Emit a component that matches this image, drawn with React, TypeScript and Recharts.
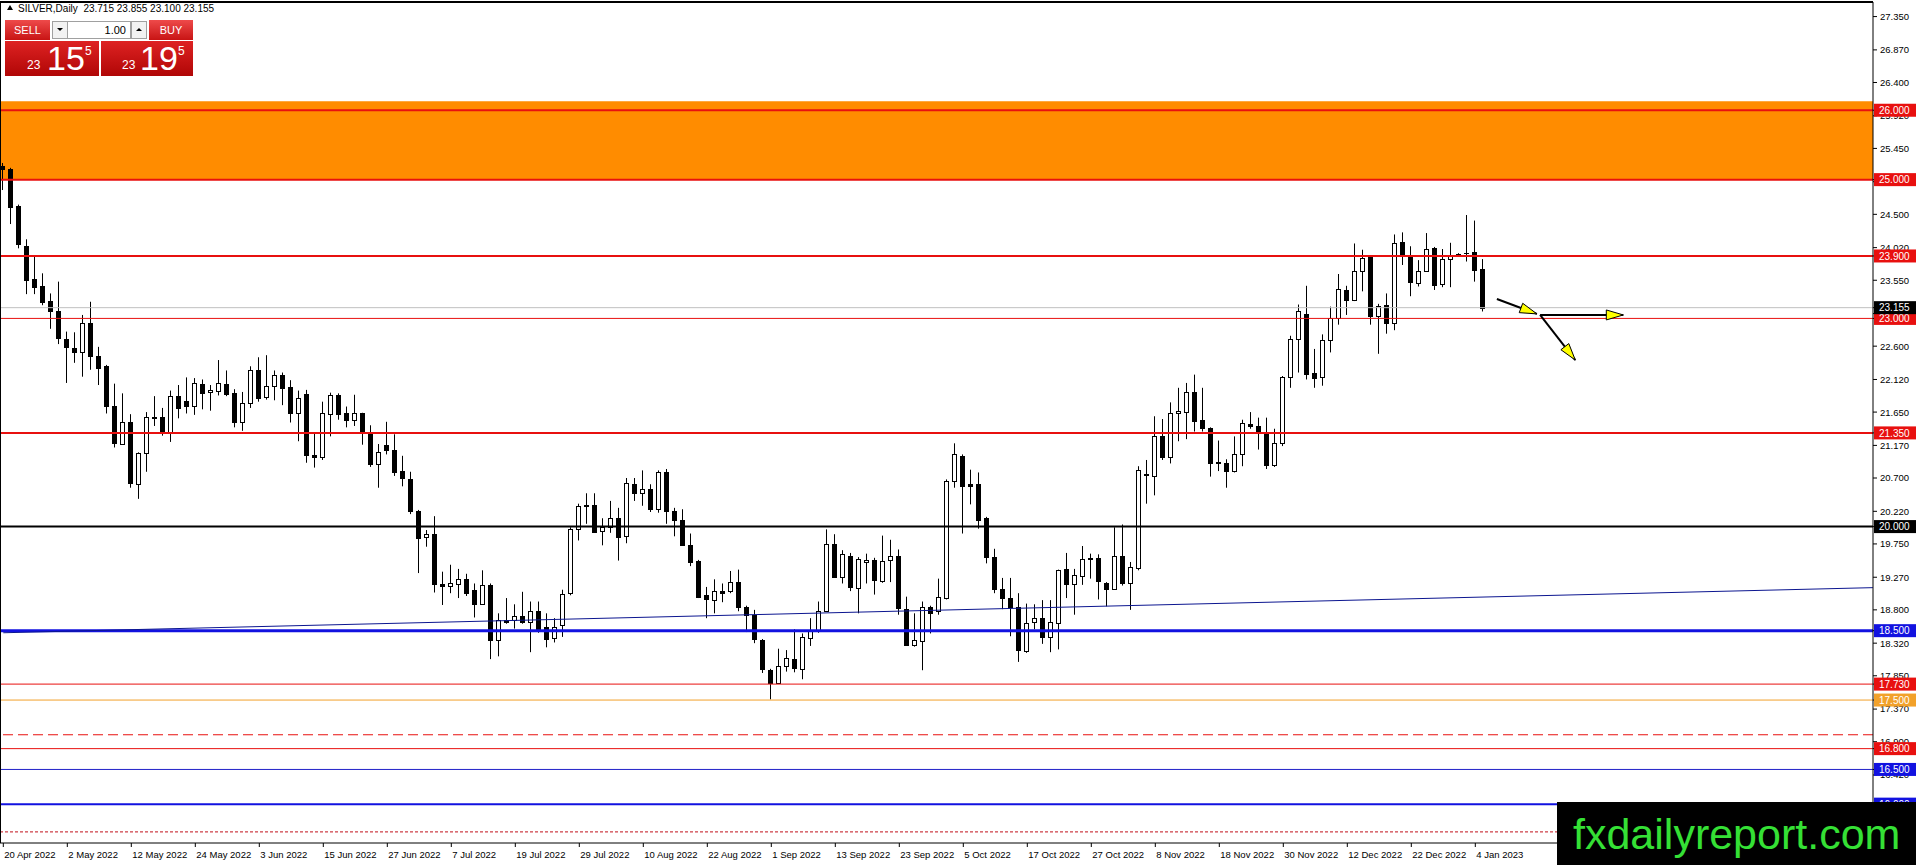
import {
  Bar,
  ComposedChart,
  ReferenceArea,
  ReferenceLine,
  XAxis,
  YAxis,
} from "recharts";

const FONT = '"Liberation Sans", Arial, sans-serif';

// daily candles, 20 Apr 2022 .. 5 Jan 2023
const OPEN = [
  25.2, 25.15, 24.62, 24.05, 23.57, 23.47, 23.25, 23.1, 22.71, 22.58,
  22.51, 22.93, 22.46, 22.31, 21.74, 21.19, 21.51, 20.62, 21.06, 21.58,
  21.58, 21.35, 21.88, 21.81, 21.74, 22.05, 21.94, 21.95, 22.05, 21.93,
  21.5, 21.78, 22.26, 21.87, 22.02, 22.19, 22.01, 21.63, 21.91, 21.03,
  21.0, 21.62, 21.9, 21.63, 21.53, 21.63, 21.37, 20.9, 21.18, 21.11,
  20.8, 20.69, 20.23, 19.85, 19.9, 19.17, 19.15, 19.17, 19.24, 19.08,
  18.89, 19.16, 18.36, 18.65, 18.66, 18.71, 18.62, 18.79, 18.55, 18.39,
  18.58, 19.04, 19.96, 20.31, 20.31, 19.93, 20.0, 20.12, 19.86, 20.62,
  20.49, 20.54, 20.25, 20.78, 20.23, 20.1, 19.74, 19.51, 19.02, 18.94,
  19.07, 19.07, 19.2, 18.84, 18.72, 18.37, 17.94, 17.75, 17.99, 18.09,
  17.95, 18.39, 18.49, 18.79, 19.75, 19.28, 19.58, 19.12, 19.49, 19.52,
  19.21, 19.52, 19.58, 18.81, 18.3, 18.35, 18.84, 18.78, 18.97, 20.65,
  21.02, 20.61, 20.61, 20.12, 19.56, 19.1, 18.97, 18.84, 18.2, 18.63,
  18.68, 18.41, 18.61, 19.39, 19.17, 19.29, 19.55, 19.55, 19.18, 19.1,
  19.58, 19.18, 19.41, 20.76, 20.73, 21.31, 21.0, 21.64, 21.65, 21.94,
  21.54, 21.42, 20.93, 20.92, 20.8, 21.04, 21.48, 21.45, 21.35, 20.89,
  21.21, 22.16, 22.7, 23.06, 22.21, 22.15, 22.69, 23.01, 23.41, 23.26,
  23.69, 23.89, 23.04, 23.2, 22.94, 24.1, 23.89, 23.51, 23.69, 24.01,
  23.5, 23.85, 23.93, 23.94, 23.96, 23.715,
];

const HIGH = [
  25.24, 25.17, 24.64, 24.14, 23.89, 23.65, 23.36, 23.53, 22.81, 22.8,
  23.05, 23.24, 22.59, 22.33, 22.06, 21.92, 21.62, 21.07, 21.65, 21.88,
  21.71, 21.96, 22.04, 22.15, 22.14, 22.12, 22.04, 22.4, 22.25, 21.98,
  21.94, 22.31, 22.44, 22.47, 22.25, 22.22, 22.11, 21.96, 21.97, 21.34,
  21.8, 21.93, 21.92, 21.73, 21.9, 21.64, 21.46, 21.19, 21.51, 21.33,
  21.02, 20.79, 20.24, 19.95, 20.15, 19.35, 19.45, 19.39, 19.32, 19.18,
  19.37, 19.18, 18.75, 18.97, 18.88, 19.06, 18.92, 18.92, 18.75, 18.68,
  19.09, 19.99, 20.33, 20.48, 20.48, 20.12, 20.37, 20.27, 20.7, 20.7,
  20.81, 20.61, 20.81, 20.83, 20.27, 20.25, 19.9, 19.52, 19.13, 19.24,
  19.18, 19.36, 19.38, 18.86, 18.8, 18.38, 17.95, 18.24, 18.22, 18.52,
  18.46, 18.68, 18.92, 19.96, 19.89, 19.66, 19.62, 19.56, 19.61, 19.55,
  19.87, 19.81, 19.67, 18.99, 18.75, 18.92, 18.86, 19.25, 20.68, 21.2,
  21.04, 20.82, 20.78, 20.14, 19.68, 19.26, 19.26, 19.04, 18.89, 18.88,
  18.94, 18.94, 19.38, 19.62, 19.39, 19.72, 19.61, 19.6, 19.2, 19.99,
  20.03, 19.49, 20.87, 20.96, 21.59, 21.55, 21.79, 22.0, 22.07, 22.19,
  22.0, 21.43, 21.24, 20.97, 21.3, 21.54, 21.65, 21.57, 21.57, 21.41,
  22.17, 22.75, 23.2, 23.47, 22.56, 22.77, 23.17, 23.64, 23.47, 24.08,
  23.99, 23.9, 23.21, 23.36, 24.21, 24.24, 24.04, 23.84, 24.23, 24.03,
  24.0, 24.09, 23.94, 24.49, 24.41, 23.855,
];

const LOW = [
  24.85, 24.36, 24.01, 23.35, 23.35, 23.19, 22.85, 22.63, 22.07, 22.36,
  22.16, 22.26, 22.04, 21.63, 21.14, 21.18, 20.56, 20.4, 20.79, 21.45,
  21.31, 21.22, 21.56, 21.63, 21.61, 21.69, 21.67, 21.89, 21.88, 21.43,
  21.38, 21.71, 21.8, 21.83, 21.82, 21.75, 21.5, 21.23, 20.92, 20.85,
  20.96, 21.3, 21.54, 21.43, 21.45, 21.18, 20.86, 20.56, 21.04, 20.73,
  20.58, 20.18, 19.33, 19.71, 19.05, 18.87, 19.04, 18.97, 19.0, 18.69,
  18.87, 18.09, 18.13, 18.6, 18.53, 18.6, 18.19, 18.47, 18.26, 18.33,
  18.41, 19.01, 19.8, 20.04, 19.91, 19.73, 19.91, 19.51, 19.76, 20.37,
  20.3, 20.21, 20.2, 20.04, 19.86, 19.72, 19.43, 18.97, 18.68, 18.75,
  18.91, 19.04, 18.78, 18.48, 18.32, 17.89, 17.51, 17.74, 17.91, 17.9,
  17.8, 18.28, 18.47, 18.78, 19.27, 19.18, 19.07, 18.75, 19.18, 19.02,
  19.19, 19.2, 18.73, 18.28, 18.27, 17.93, 18.46, 18.73, 18.95, 20.56,
  19.9, 20.32, 19.97, 19.47, 19.04, 18.81, 18.42, 18.05, 18.18, 18.52,
  18.31, 18.19, 18.23, 18.97, 18.73, 19.16, 19.25, 18.95, 18.85, 19.09,
  19.15, 18.8, 19.37, 20.33, 20.45, 20.96, 20.91, 21.23, 21.26, 21.37,
  21.37, 20.72, 20.8, 20.56, 20.78, 20.87, 21.41, 21.11, 20.83, 20.86,
  21.16, 22.0, 22.22, 22.12, 22.0, 22.03, 22.51, 22.91, 23.05, 23.25,
  23.39, 22.91, 22.49, 22.78, 22.83, 23.77, 23.32, 23.46, 23.68, 23.41,
  23.45, 23.45, 23.92, 23.82, 23.53, 23.1,
];

const CLOSE = [
  25.15, 24.6, 24.07, 23.55, 23.45, 23.24, 23.1, 22.72, 22.59, 22.51,
  22.93, 22.46, 22.29, 21.74, 21.21, 21.51, 20.63, 21.06, 21.58, 21.56,
  21.35, 21.88, 21.71, 21.74, 22.07, 21.93, 21.97, 22.07, 21.91, 21.5,
  21.78, 22.26, 21.86, 22.03, 22.19, 21.99, 21.64, 21.85, 21.03, 21.0,
  21.63, 21.9, 21.62, 21.53, 21.64, 21.35, 20.9, 21.08, 21.1, 20.79,
  20.7, 20.22, 19.83, 19.9, 19.17, 19.15, 19.19, 19.25, 19.04, 18.89,
  19.16, 18.37, 18.65, 18.62, 18.71, 18.62, 18.79, 18.53, 18.38, 18.56,
  19.03, 19.96, 20.3, 20.29, 19.92, 20.0, 20.12, 19.85, 20.63, 20.49,
  20.54, 20.26, 20.78, 20.22, 20.09, 19.73, 19.49, 18.98, 18.95, 19.07,
  19.05, 19.2, 18.84, 18.72, 18.38, 17.95, 17.75, 17.99, 18.11, 17.96,
  18.41, 18.51, 18.79, 19.75, 19.28, 19.6, 19.13, 19.53, 19.52, 19.23,
  19.51, 19.58, 18.82, 18.3, 18.36, 18.84, 18.76, 18.99, 20.66, 21.04,
  20.59, 20.58, 20.09, 19.56, 19.1, 18.97, 18.84, 18.22, 18.61, 18.68,
  18.41, 18.62, 19.37, 19.17, 19.3, 19.53, 19.53, 19.21, 19.1, 19.58,
  19.18, 19.42, 20.82, 20.75, 21.31, 21.0, 21.64, 21.67, 21.94, 21.52,
  21.42, 20.92, 20.91, 20.8, 21.05, 21.49, 21.45, 21.35, 20.89, 21.21,
  22.16, 22.7, 23.11, 22.2, 22.14, 22.69, 23.01, 23.42, 23.26, 23.69,
  23.87, 23.04, 23.18, 22.94, 24.09, 23.92, 23.52, 23.69, 24.0, 23.48,
  23.85, 23.92, 23.93, 23.94, 23.7, 23.155,
];

// one label every 8 bars
const LABEL_STEP = 8;
const DATE_LABELS = [
  "20 Apr 2022", "2 May 2022", "12 May 2022", "24 May 2022", "3 Jun 2022",
  "15 Jun 2022", "27 Jun 2022", "7 Jul 2022", "19 Jul 2022", "29 Jul 2022",
  "10 Aug 2022", "22 Aug 2022", "1 Sep 2022", "13 Sep 2022", "23 Sep 2022",
  "5 Oct 2022", "17 Oct 2022", "27 Oct 2022", "8 Nov 2022", "18 Nov 2022",
  "30 Nov 2022", "12 Dec 2022", "22 Dec 2022", "4 Jan 2023",
];

const PRICE_TICKS = [
  27.35, 26.87, 26.4, 25.92, 25.45, 24.97, 24.5, 24.02, 23.55, 23.07, 22.6,
  22.12, 21.65, 21.17, 20.7, 20.22, 19.75, 19.27, 18.8, 18.32, 17.85, 17.37,
  16.9, 16.42, 15.95, 15.47,
];

// horizontal levels drawn on the chart
const LEVEL_PRICES = [
  26.0, 25.0, 23.9, 23.0, 21.35, 20.0, 18.5, 17.73, 17.5, 17.0, 16.8, 16.5,
  16.0, 15.6,
];
const ZONE = [25.0, 26.13];
const TREND = [
  { bar: 0, price: 18.47 },
  { bar: 233.7, price: 19.12 },
];
const ARROWS = [
  { from: { bar: 186.7, price: 23.28 }, to: { bar: 191.7, price: 23.065 } },
  { from: { bar: 192.1, price: 23.05 }, to: { bar: 202.5, price: 23.05 } },
  { from: { bar: 192.1, price: 23.05 }, to: { bar: 196.5, price: 22.4 } },
];

const SYMBOL = "SILVER,Daily";
const LOT = "1.00";
const ASK = 23.195;

const RED = "#e8100f";
const BLUE = "#1212e0";

const LEVEL_STYLES = [
  { stroke: RED, width: 2, tag: RED },
  { stroke: RED, width: 2, tag: RED },
  { stroke: RED, width: 2, tag: RED },
  { stroke: RED, width: 1, tag: RED },
  { stroke: RED, width: 2, tag: RED },
  { stroke: "#000", width: 2, tag: "#000" },
  { stroke: BLUE, width: 3, tag: BLUE },
  { stroke: RED, width: 1, tag: RED },
  { stroke: "#f2a12a", width: 1, tag: "#f2a12a" },
  { stroke: RED, width: 1, dash: "10 5" },
  { stroke: RED, width: 1, tag: RED },
  { stroke: "#2020c8", width: 1, tag: BLUE },
  { stroke: BLUE, width: 2, tag: BLUE },
  { stroke: "#c0101a", width: 1, dash: "3 2" },
];

const X_MIN = -0.4125;
const X_MAX = 233.7125;
const Y_MIN = 15.44;
const Y_MAX = 27.56;

const candles = OPEN.map((open, i) => ({
  i,
  open,
  high: HIGH[i],
  low: LOW[i],
  close: CLOSE[i],
  range: [LOW[i], HIGH[i]],
}));

const last = candles[candles.length - 1];
const BID = last.close;

// price tags on the right scale: level tags plus the bid
const tags = new Map<number, string>();
LEVEL_PRICES.forEach((p, k) => {
  const t = LEVEL_STYLES[k].tag;
  if (t) tags.set(p, t);
});
tags.set(BID, "#000");
// tags go last so they are painted over the plain tick labels
const axisTicks = [...PRICE_TICKS, ...Array.from(tags.keys())];

function Candle(props: any) {
  const { x, y, width, height, payload } = props;
  if (!payload) return null;
  const top = Math.min(y, y + height);
  const bottom = Math.max(y, y + height);
  const span = payload.high - payload.low;
  const k = span > 0 ? (bottom - top) / span : 0;
  const toY = (v: number) => top + (payload.high - v) * k;
  const cx = Math.floor(x + width / 2) + 0.5;
  const up = payload.close > payload.open;
  const bTop = Math.round(toY(Math.max(payload.open, payload.close))) + 0.5;
  const bBot = Math.round(toY(Math.min(payload.open, payload.close))) + 0.5;
  return (
    <g>
      <line x1={cx} x2={cx} y1={top} y2={bottom} stroke="#000" strokeWidth={1} />
      {bBot - bTop < 1 ? (
        <line x1={cx - 2.5} x2={cx + 2.5} y1={bTop} y2={bTop} stroke="#000" strokeWidth={1} />
      ) : (
        <rect
          x={cx - 2}
          y={bTop}
          width={4}
          height={bBot - bTop}
          fill={up ? "#fff" : "#000"}
          stroke="#000"
          strokeWidth={1}
        />
      )}
    </g>
  );
}

function PriceTick(props: any) {
  const { x, y, payload } = props;
  const v = payload.value as number;
  const bg = tags.get(v);
  if (bg) {
    return (
      <g>
        <rect x={x - 6} y={y - 6.5} width={43} height={13} fill={bg} />
        <text x={x - 1} y={y} dy="0.36em" fill="#fff" fontSize={10} fontFamily={FONT}>
          {v.toFixed(3)}
        </text>
      </g>
    );
  }
  return (
    <text x={x} y={y} dy="0.36em" fill="#000" fontSize={9.5} fontFamily={FONT}>
      {v.toFixed(3)}
    </text>
  );
}

function ArrowShape(props: any) {
  const { x1, y1, x2, y2, strokeWidth } = props;
  const ang = Math.atan2(y2 - y1, x2 - x1);
  const len = 17;
  const half = 5;
  const bx = x2 - len * Math.cos(ang);
  const by = y2 - len * Math.sin(ang);
  const px = -Math.sin(ang) * half;
  const py = Math.cos(ang) * half;
  return (
    <g>
      <line x1={x1} y1={y1} x2={x2} y2={y2} stroke="#000" strokeWidth={strokeWidth} />
      <polygon
        points={`${x2},${y2} ${bx + px},${by + py} ${bx - px},${by - py}`}
        fill="#ffff00"
        stroke="#000"
        strokeWidth={1}
      />
    </g>
  );
}

function DateTick(props: any) {
  const { x, y, payload } = props;
  const label = DATE_LABELS[Math.round(payload.value / LABEL_STEP)];
  return (
    <text x={x + 1} y={y + 9} fontSize={9.5} fontFamily={FONT} fill="#000">
      {label}
    </text>
  );
}

function splitQuote(v: number) {
  const s = v.toFixed(3);
  return { big: s.slice(0, 2), mid: s.slice(3, 5), pip: s.slice(5) };
}

function TradePanel() {
  const bid = splitQuote(BID);
  const ask = splitQuote(ASK);
  const header = `${SYMBOL}  ${last.open.toFixed(3)} ${last.high.toFixed(3)} ${last.low.toFixed(3)} ${last.close.toFixed(3)}`;
  return (
    <svg
      width={280}
      height={80}
      style={{ position: "absolute", left: 0, top: 0 }}
      fontFamily={FONT}
    >
      <defs>
        <linearGradient id="btnRed" x1="0" y1="0" x2="0" y2="1">
          <stop offset="0%" stopColor="#ee4a4a" />
          <stop offset="100%" stopColor="#c81414" />
        </linearGradient>
        <linearGradient id="boxRed" x1="0" y1="0" x2="0" y2="1">
          <stop offset="0%" stopColor="#de2222" />
          <stop offset="100%" stopColor="#b00606" />
        </linearGradient>
      </defs>
      <polygon points="7,10 10,5 13,10" fill="#000" />
      <text x={18} y={12} fontSize={10} fill="#000" style={{ whiteSpace: "pre" }}>
        {header}
      </text>

      <rect x={5} y={20} width={45} height={20} fill="url(#btnRed)" />
      <text x={27.5} y={34} fontSize={11} fill="#fff" textAnchor="middle">
        SELL
      </text>
      <rect x={52.5} y={21.5} width={15} height={17} fill="#f2f2f2" stroke="#a0a0a0" />
      <polygon points="57,28 63,28 60,31" fill="#000" />
      <rect x={67.5} y={21.5} width={63} height={17} fill="#fff" stroke="#a0a0a0" />
      <text x={126} y={34} fontSize={11} fill="#000" textAnchor="end">
        {LOT}
      </text>
      <rect x={131.5} y={21.5} width={15} height={17} fill="#f2f2f2" stroke="#a0a0a0" />
      <polygon points="136,31 142,31 139,28" fill="#000" />
      <rect x={149} y={20} width={44} height={20} fill="url(#btnRed)" />
      <text x={171} y={34} fontSize={11} fill="#fff" textAnchor="middle">
        BUY
      </text>

      <rect x={5} y={41} width={94} height={35} fill="url(#boxRed)" />
      <rect x={101} y={41} width={92} height={35} fill="url(#boxRed)" />
      <text x={27} y={69} fontSize={12} fill="#fff">{bid.big}</text>
      <text x={47} y={70} fontSize={34} fill="#fff">{bid.mid}</text>
      <text x={85} y={55} fontSize={12} fill="#fff">{bid.pip}</text>
      <text x={122} y={69} fontSize={12} fill="#fff">{ask.big}</text>
      <text x={140} y={70} fontSize={34} fill="#fff">{ask.mid}</text>
      <text x={178} y={55} fontSize={12} fill="#fff">{ask.pip}</text>
    </svg>
  );
}

function Watermark() {
  return (
    <svg
      width={359}
      height={63}
      style={{ position: "absolute", left: 1557, top: 802 }}
    >
      <rect x={0} y={0} width={359} height={63} fill="#000" />
      <text x={16} y={47} fontSize={43} fontFamily={FONT} fill="#35e035">
        fxdailyreport.com
      </text>
    </svg>
  );
}

export default function App() {
  const dateTicks = DATE_LABELS.map((_, k) => k * LABEL_STEP);
  return (
    <div
      style={{
        position: "absolute",
        left: 0,
        top: 0,
        width: 1916,
        height: 865,
        background: "#fff",
        overflow: "hidden",
      }}
    >
      <ComposedChart
        width={1916}
        height={865}
        data={candles}
        margin={{ top: 2, right: 0, bottom: 0, left: 0 }}
      >
        <XAxis
          dataKey="i"
          type="number"
          domain={[X_MIN, X_MAX]}
          allowDataOverflow
          ticks={dateTicks}
          interval={0}
          height={22}
          tickSize={4}
          tick={<DateTick />}
          axisLine={{ stroke: "#000" }}
          tickLine={{ stroke: "#000" }}
        />
        <YAxis
          orientation="right"
          type="number"
          domain={[Y_MIN, Y_MAX]}
          allowDataOverflow
          ticks={axisTicks}
          interval={0}
          width={43}
          tickSize={4}
          tickMargin={3}
          tick={<PriceTick />}
          axisLine={{ stroke: "#000" }}
          tickLine={{ stroke: "#000" }}
        />
        <ReferenceArea
          y1={ZONE[0]}
          y2={ZONE[1]}
          fill="#ff8c00"
          fillOpacity={1}
          stroke="none"
        />
        <Bar
          dataKey="range"
          barSize={5}
          shape={<Candle />}
          isAnimationActive={false}
        />
        <ReferenceLine y={BID} stroke="#c0c0c0" strokeWidth={1} />
        {LEVEL_PRICES.map((price, k) => {
          const s = LEVEL_STYLES[k];
          return (
            <ReferenceLine
              key={`lvl-${price}`}
              y={price}
              stroke={s.stroke}
              strokeWidth={s.width}
              strokeDasharray={s.dash}
            />
          );
        })}
        <ReferenceLine
          segment={[
            { x: TREND[0].bar, y: TREND[0].price },
            { x: TREND[1].bar, y: TREND[1].price },
          ]}
          stroke="#0c1690"
          strokeWidth={1}
        />
        {ARROWS.map((a, k) => (
          <ReferenceLine
            key={`arrow-${k}`}
            segment={[
              { x: a.from.bar, y: a.from.price },
              { x: a.to.bar, y: a.to.price },
            ]}
            stroke="#000"
            strokeWidth={2}
            shape={(p: any) => <ArrowShape {...p} strokeWidth={2} />}
          />
        ))}
        <ReferenceLine x={X_MIN} stroke="#000" strokeWidth={2} />
        <ReferenceLine y={Y_MAX} stroke="#000" strokeWidth={2} />
      </ComposedChart>
      <TradePanel />
      <Watermark />
    </div>
  );
}
